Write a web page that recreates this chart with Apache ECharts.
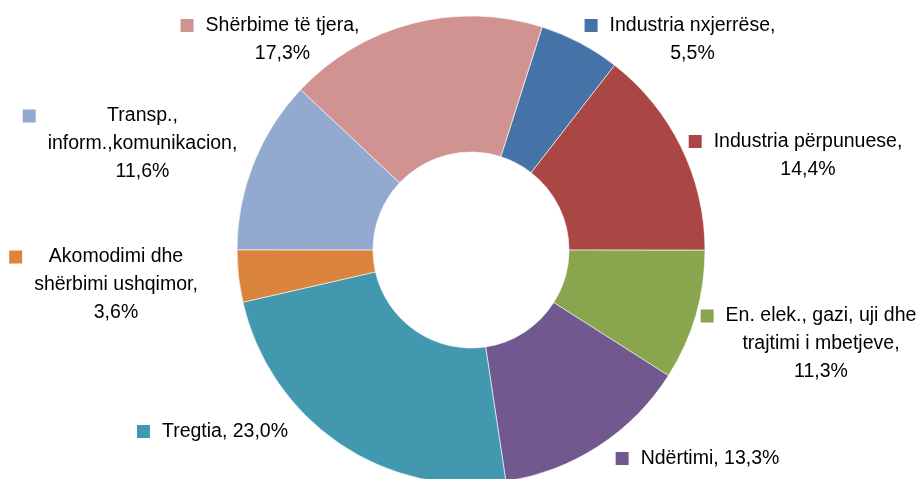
<!DOCTYPE html>
<html>
<head>
<meta charset="utf-8">
<script src="https://cdn.jsdelivr.net/npm/echarts@6/dist/echarts.min.js"></script>
<style>
  html, body { margin: 0; padding: 0; background: #fff; }
  #chart { width: 920px; height: 479px; }
</style>
</head>
<body>
<div id="chart"></div>
<script>
// sectors, clockwise starting at the top right
const sectors = [
  'Industria nxjerrëse', 'Industria përpunuese', 'En. elek., gazi, uji dhe trajtimi i mbetjeve',
  'Ndërtimi', 'Tregtia', 'Akomodimi dhe shërbimi ushqimor',
  'Transp., inform.,komunikacion', 'Shërbime të tjera'
];
// slice sizes as drawn in the picture (%)
const shares = [5.6, 14.5, 9.0, 13.6, 23.8, 3.6, 12.0, 17.9];
// label texts as printed
const labelTexts = [
  'Industria nxjerrëse,\n5,5%',
  'Industria përpunuese,\n14,4%',
  'En. elek., gazi, uji dhe\ntrajtimi i mbetjeve,\n11,3%',
  'Ndërtimi, 13,3%',
  'Tregtia, 23,0%',
  'Akomodimi dhe\nshërbimi ushqimor,\n3,6%',
  'Transp.,\ninform.,komunikacion,\n11,6%',
  'Shërbime të tjera,\n17,3%'
];
const colors = ['#4572A7', '#AA4643', '#89A54E', '#71588F', '#4198AF', '#DB843D', '#93A9CF', '#D19392'];
// centre of each label block (px)
const labelPos = [
  [692.5, 39.5], [808, 155.5], [821, 344], [710, 458.5],
  [225, 431.5], [116, 285], [142.5, 144], [282.5, 39.5]
];

const font = "'Liberation Sans', Arial, sans-serif";
const chart = echarts.init(document.getElementById('chart'));

const rich = {
  t: { color: '#000', fontSize: 19.5, lineHeight: 28, fontFamily: font },
  gl: { width: 12, align: 'left' },
  L: { width: 25, align: 'left' },
  R: { width: 25, align: 'right' }
};
colors.forEach((c, i) => {
  rich['sq' + i] = { width: 13, height: 13, backgroundColor: c, align: 'left' };
});

const option = {
  animation: false,
  series: [
    {
      type: 'pie',
      center: [471, 250],
      radius: [98, 234],
      startAngle: 72.3,
      clockwise: true,
      avoidLabelOverlap: false,
      itemStyle: { borderColor: '#fff', borderWidth: 0.6 },
      emphasis: { disabled: true },
      label: {
        show: true,
        position: 'inside',
        align: 'center',
        overflow: 'none',
        color: '#000',
        fontSize: 19.5,
        lineHeight: 28,
        fontFamily: font,
        formatter: (p) => {
          const lines = labelTexts[p.dataIndex].split('\n');
          return lines.map((l, k) => k === 0
            ? `{sq${p.dataIndex}| }{gl| }{t|${l}}{R| }`
            : `{L| }{t|${l}}{R| }`).join('\n');
        },
        rich: rich
      },
      labelLine: { show: false },
      labelLayout: (params) => ({
        x: labelPos[params.dataIndex][0],
        y: labelPos[params.dataIndex][1],
        align: 'center',
        verticalAlign: 'middle'
      }),
      data: sectors.map((name, i) => ({
        name: name,
        value: shares[i],
        itemStyle: { color: colors[i] }
      }))
    }
  ]
};

chart.setOption(option);
</script>
</body>
</html>
